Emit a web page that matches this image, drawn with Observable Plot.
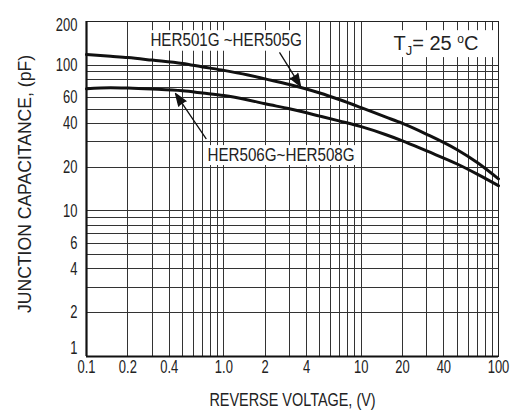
<!DOCTYPE html>
<html>
<head>
<meta charset="utf-8">
<script src="https://cdn.jsdelivr.net/npm/d3@7"></script>
<script src="https://cdn.jsdelivr.net/npm/@observablehq/plot@0.6"></script>
<style>
  html, body { margin: 0; padding: 0; background: white; }
</style>
</head>
<body>
<div id="chart"></div>
<script>
// ---- data ----
const voltage = [0.1, 0.15, 0.2, 0.3, 0.5, 0.7, 1, 1.5, 2, 3, 5, 7, 10, 15, 20, 30, 50, 70, 100];
const capHER501_505 = [118.6, 115.3, 113, 108.6, 103, 97.5, 92.3, 85.8, 80.7, 73.9, 64.6, 58, 51.2, 44.2, 39.9, 33.6, 26.3, 21.5, 16.6];
const capHER506_508 = [69, 70.2, 69.8, 68.7, 66.8, 64.5, 62, 57.8, 54.4, 50.3, 44.8, 41.4, 37.9, 33.5, 30.3, 25.8, 21, 17.9, 14.9];

const xTicks = [0.1, 0.2, 0.4, 1, 2, 4, 10, 20, 40, 100];
const xTickLabels = ["0.1", "0.2", "0.4", "1.0", "2", "4", "10", "20", "40", "100"];
const yTicks = [1, 2, 4, 6, 10, 20, 40, 60, 100, 200];
const yTickLabels = ["1", "2", "4", "6", "10", "20", "40", "60", "100", "200"];

const xGrid = [0.1, 0.2, 0.3, 0.4, 0.5, 0.6, 0.7, 0.8, 0.9, 1, 2, 3, 4, 5, 6, 7, 8, 9, 10, 20, 30, 40, 50, 60, 70, 80, 90, 100];
const yGrid = [2, 3, 4, 5, 6, 7, 8, 9, 10, 20, 30, 40, 50, 60, 70, 80, 90, 100];

const seriesNames = ["HER501G ~HER505G", "HER506G~HER508G"];
const labelText = ["HER501G ~HER505G", "HER506G~HER508G"];
const labelX = [0.292, 0.76];
const labelY = [148, 24];
const condText = "TJ= 25 °C";
const condX = 17.2;
const condY = 142;

const xTitle = "REVERSE VOLTAGE, (V)";
const yTitle = "JUNCTION CAPACITANCE, (pF)";

// white boxes behind annotations (data units)
const boxX1 = [0.278, 0.735, 16.4];
const boxX2 = [3.93, 9.09, 100];
const boxY1 = [125, 20.5, 113];
const boxY2 = [173, 28.1, 173];

// leader arrows (data units)
const arrowX1 = [2.556, 0.742];
const arrowY1 = [121.9, 31.4];
const arrowX2 = [3.617, 0.445];
const arrowY2 = [71.9, 64];

// ---- build tables ----
const curves = [];
voltage.forEach((v, i) => {
  curves.push({series: seriesNames[0], v, c: capHER501_505[i]});
  curves.push({series: seriesNames[1], v, c: capHER506_508[i]});
});
const boxes = boxX1.map((d, i) => ({x1: d, x2: boxX2[i], y1: boxY1[i], y2: boxY2[i]}));
const arrows = arrowX1.map((d, i) => ({x1: d, y1: arrowY1[i], x2: arrowX2[i], y2: arrowY2[i]}));
const labels = labelText.map((t, i) => ({t, x: labelX[i], y: labelY[i]}));

const font = "'Liberation Sans', Arial, Helvetica, sans-serif";
const gridColor = "#333";
const yLabel = d => yTickLabels[yTicks.indexOf(d)];
const yTickOpts = {y: d => d, frameAnchor: "left", dx: -9, textAnchor: "end", text: yLabel, fontSize: 18, fill: "#222"};

const chart = Plot.plot({
  width: 517,
  height: 416,
  marginLeft: 86,
  marginRight: 19,
  marginTop: 21,
  marginBottom: 60,
  style: {fontFamily: font, background: "white", color: "#222"},
  x: {type: "log", domain: [0.1, 100], axis: null},
  y: {type: "log", domain: [1, 200], axis: null},
  marks: [
    Plot.ruleX(xGrid, {stroke: gridColor, strokeWidth: 1, shapeRendering: "crispEdges"}),
    Plot.ruleY(yGrid, {x1: 0.1, x2: 100, stroke: gridColor, strokeWidth: 1, shapeRendering: "crispEdges"}),
    Plot.rect(boxes, {x1: "x1", x2: "x2", y1: "y1", y2: "y2", fill: "white"}),
    Plot.frame({stroke: "#222", strokeWidth: 1, shapeRendering: "crispEdges"}),
    Plot.ruleX([0.1], {stroke: "#111", strokeWidth: 2.2}),
    Plot.ruleY([1], {stroke: "#111", strokeWidth: 2.2}),
    Plot.line(curves, {x: "v", y: "c", z: "series", stroke: "#111", strokeWidth: 3, curve: "monotone-x"}),
    Plot.arrow(arrows, {x1: "x1", y1: "y1", x2: "x2", y2: "y2", stroke: "#111", strokeWidth: 1.3, headLength: 15, headAngle: 40}),
    Plot.text(labels, {x: "x", y: "y", text: "t", textAnchor: "start", fontSize: 18.5, fill: "#222"}),
    Plot.text([condText], {x: [condX], y: [condY], text: d => d, textAnchor: "start", fontSize: 20, fill: "#222"}),
    // tick labels
    Plot.text(xTicks, {x: d => d, frameAnchor: "bottom", dy: 16, text: d => xTickLabels[xTicks.indexOf(d)], fontSize: 18, fill: "#222"}),
    Plot.text(yTicks.filter(d => d !== yTicks[0] && d !== yTicks[yTicks.length - 1]), yTickOpts),
    Plot.text([yTicks[0]], {...yTickOpts, dy: -8}),
    Plot.text([yTicks[yTicks.length - 1]], {...yTickOpts, dy: 4}),
    // axis titles
    Plot.text([xTitle], {frameAnchor: "bottom", dy: 49, text: d => d, fontSize: 18.5, fill: "#222"}),
    Plot.text([yTitle], {frameAnchor: "left", dx: -61, dy: -5, rotate: -90, textAnchor: "middle", text: d => d, fontSize: 18.7, fill: "#222"})
  ]
});

// filled arrowheads
chart.querySelectorAll('g[aria-label="arrow"] path').forEach(p => {
  p.setAttribute("fill", "#111");
});

document.getElementById("chart").appendChild(chart);

// the reference uses a condensed sans: squeeze glyphs along the text direction
const tickSet = new Set([...xTickLabels, ...yTickLabels]);
const labelSet = new Set(labelText);
chart.querySelectorAll("text").forEach(t => {
  const s = t.textContent;
  let ratio = null;
  if (tickSet.has(s)) ratio = 0.72;
  else if (labelSet.has(s)) ratio = 0.82;
  else if (s === xTitle) ratio = 0.78;
  else if (s === yTitle) ratio = 0.94;
  if (ratio == null) return;
  const len = t.getComputedTextLength();
  if (len > 0) {
    t.setAttribute("textLength", (len * ratio).toFixed(2));
    t.setAttribute("lengthAdjust", "spacingAndGlyphs");
  }
});

// subscript / superscript for T_J = 25 °C
const NS = "http://www.w3.org/2000/svg";
chart.querySelectorAll("text").forEach(t => {
  if (t.textContent === condText) {
    while (t.firstChild) t.removeChild(t.firstChild);
    const parts = [
      {s: "T"},
      {s: "J", fs: 13, dy: 5},
      {s: "= 25 ", dy: -5},
      {s: "o", fs: 12, dy: -7},
      {s: "C", dy: 7}
    ];
    parts.forEach(p => {
      const ts = document.createElementNS(NS, "tspan");
      ts.textContent = p.s;
      if (p.fs) ts.setAttribute("font-size", p.fs);
      if (p.dy) ts.setAttribute("dy", p.dy);
      t.appendChild(ts);
    });
  }
});
</script>
</body>
</html>
